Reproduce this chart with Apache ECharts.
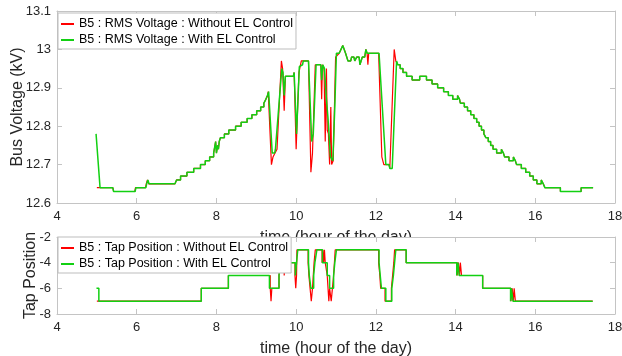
<!DOCTYPE html>
<html>
<head>
<meta charset="utf-8">
<script src="https://cdn.jsdelivr.net/npm/echarts@6/dist/echarts.min.js"></script>
<style>
  html, body { margin: 0; padding: 0; background: #fff; }
  #chart { width: 622px; height: 356px; }
</style>
</head>
<body>
<div id="chart"></div>
<script>
// ---- data ----
var xTicks = [4, 18, 2];              // min, max, step (hours)
var voltTicks = [12.6, 13.1, 0.1];
var tapTicks = [-8, -2, 2];

var voltNames = ['B5 : RMS Voltage : Without EL Control', 'B5 : RMS Voltage : With EL Control'];
var tapNames = ['B5 : Tap Position : Without EL Control', 'B5 : Tap Position : With EL Control'];

// voltage (kV), [hour, value]
var voltRedHead = [[5.00,12.64],[5.40,12.64],[5.42,12.63],[5.95,12.63],[5.97,12.64],[6.22,12.64],[6.24,12.65],
  [6.27,12.66],[6.30,12.65],[6.96,12.65]];
var voltGreenHead = [[4.98,12.78],[5.08,12.64],[5.40,12.64],[5.42,12.63],[5.96,12.63],[5.98,12.64],[6.23,12.64],
  [6.25,12.65],[6.28,12.66],[6.31,12.65],[6.96,12.65]];
// step change points, shared by both runs
var voltRise = [[7.00,12.66],[7.10,12.67],[7.26,12.68],[7.43,12.69],[7.60,12.70],[7.72,12.71],[7.83,12.72],
  [7.93,12.73],[7.98,12.76],[8.00,12.73],[8.03,12.75],[8.05,12.74],[8.07,12.76],[8.10,12.77],[8.20,12.78],
  [8.31,12.79],[8.48,12.80],[8.62,12.81],[8.77,12.82],[8.89,12.83],[9.01,12.84],[9.11,12.85],[9.19,12.86],
  [9.24,12.87],[9.28,12.88]];
var voltRedMid = [[9.30,12.89],[9.38,12.70],[9.42,12.72],[9.47,12.73],[9.52,12.74],[9.63,12.97],[9.66,12.95],
  [9.70,12.84],[9.73,12.93],[9.93,12.93],[9.95,12.94],[10.00,12.74],[10.07,12.94],[10.13,12.97],[10.31,12.97],
  [10.37,12.68],[10.41,12.73],[10.48,12.96],[10.62,12.96],[10.64,12.87],[10.66,12.96],[10.70,12.95],[10.73,12.76],
  [10.76,12.95],[10.78,12.79],[10.81,12.78],[10.84,12.70],[10.87,12.85],[10.89,12.70],[10.93,12.71],[10.99,12.98],
  [11.08,12.99],[11.17,13.01],[11.24,12.99],[11.30,12.97],[11.37,12.97],[11.39,12.98],[11.45,12.98],[11.47,12.97],
  [11.51,12.97],[11.52,12.98],[11.58,12.98],[11.60,12.96],[11.66,12.98],[11.72,12.98],[11.75,13.00],[11.78,12.99],
  [11.80,12.96],[11.82,12.99],[12.07,12.99],[12.15,12.72],[12.20,12.70],[12.33,12.70],[12.35,12.69],[12.40,12.69],
  [12.46,13.00],[12.50,12.97]];
var voltGreenMid = [[9.31,12.89],[9.40,12.73],[9.46,12.73],[9.48,12.74],[9.52,12.74],[9.64,12.95],[9.67,12.94],
  [9.70,12.88],[9.73,12.93],[9.93,12.93],[9.95,12.94],[10.01,12.78],[10.08,12.955],[10.16,12.96],[10.18,12.97],
  [10.31,12.97],[10.39,12.76],[10.43,12.78],[10.50,12.96],[10.62,12.96],[10.64,12.92],[10.67,12.96],[10.71,12.95],
  [10.76,12.87],[10.80,12.82],[10.86,12.72],[10.92,12.71],[10.97,12.85],[11.01,12.99],[11.08,12.99],[11.17,13.01],
  [11.24,12.99],[11.30,12.97],[11.37,12.97],[11.39,12.98],[11.45,12.98],[11.47,12.97],[11.51,12.97],[11.52,12.98],
  [11.58,12.98],[11.60,12.96],[11.66,12.98],[11.72,12.98],[11.75,13.00],[11.78,12.99],[12.08,12.99],[12.25,12.70],
  [12.33,12.70],[12.35,12.69],[12.41,12.69],[12.52,12.97]];
var voltFall = [[12.55,12.96],[12.61,12.95],[12.68,12.94],[12.77,12.93],[12.91,12.92],[13.10,12.93],[13.27,12.92],
  [13.41,12.91],[13.55,12.90],[13.70,12.89],[13.82,12.88],[13.93,12.87],[14.05,12.88],[14.10,12.87],[14.12,12.86],
  [14.22,12.85],[14.30,12.84],[14.38,12.83],[14.46,12.82],[14.53,12.81],[14.59,12.80],[14.65,12.79],[14.71,12.78],
  [14.76,12.77],[14.82,12.76],[14.88,12.75],[14.94,12.74],[15.03,12.73],[15.15,12.74],[15.20,12.73],[15.23,12.72],
  [15.34,12.71],[15.45,12.72],[15.50,12.71],[15.53,12.70],[15.65,12.69],[15.76,12.68],[15.86,12.67],[15.95,12.66],
  [16.04,12.65],[16.15,12.66],[16.20,12.65],[16.24,12.64],[16.63,12.63],[17.15,12.64],[17.45,12.64]];

// tap position, [hour, tap] change points
var tapRed = [[5.00,-7],[7.62,-6],[8.30,-5],[9.35,-6],[9.37,-7],[9.39,-6],[9.57,-5],[9.60,-4],[9.70,-5],[9.72,-4],
  [9.97,-5],[9.99,-6],[10.01,-5],[10.02,-3],[10.30,-4],[10.32,-5],[10.35,-6],[10.38,-7],[10.41,-6],[10.43,-5],
  [10.45,-4],[10.48,-3],[10.65,-4],[10.67,-3],[10.69,-4],[10.71,-3],[10.73,-4],[10.78,-5],[10.80,-6],[10.82,-7],
  [10.84,-6],[10.88,-7],[10.91,-6],[10.94,-5],[10.96,-4],[10.98,-3],[12.07,-4],[12.10,-5],[12.12,-6],[12.23,-7],
  [12.39,-6],[12.42,-5],[12.45,-4],[12.47,-3],[12.76,-4],[14.04,-5],[14.07,-4],[14.10,-5],[14.12,-4],[14.15,-5],
  [14.68,-6],[15.39,-7],[15.42,-6],[15.45,-7],[15.47,-6],[15.50,-7],[17.44,-7]];
var tapGreen = [[4.99,-6],[5.05,-7],[7.62,-6],[8.30,-5],[9.33,-6],[9.57,-5],[9.60,-4],[9.98,-5],[10.01,-4],
  [10.04,-3],[10.31,-4],[10.33,-5],[10.37,-6],[10.44,-5],[10.47,-4],[10.52,-3],[10.66,-4],[10.78,-5],[10.84,-6],
  [10.94,-5],[10.97,-4],[11.01,-3],[12.08,-4],[12.11,-5],[12.14,-6],[12.25,-7],[12.40,-6],[12.44,-5],[12.47,-4],
  [12.50,-3],[12.76,-4],[14.03,-5],[14.06,-4],[14.09,-5],[14.68,-6],[15.38,-7],[15.40,-6],[15.44,-7],[17.44,-7]];

// held-value points -> line corners
function stairs(pts) {
    var out = [];
    for (var i = 0; i < pts.length; i++) {
        if (i > 0) out.push([pts[i][0], pts[i - 1][1]]);
        out.push(pts[i]);
    }
    return out;
}

var voltRed = voltRedHead.concat(stairs(voltRise), voltRedMid, stairs(voltFall));
var voltGreen = voltGreenHead.concat(stairs(voltRise), voltGreenMid, stairs(voltFall));

var RED = '#ff0000', GREEN = '#12d012';
var font = 'Liberation Sans, Arial, sans-serif';
var boxColor = '#c4c4c4', txtColor = '#262626';

function xAx(grid, pos, z, name) {
    return {
        type: 'value', gridIndex: grid, position: pos, z: z,
        min: xTicks[0], max: xTicks[1], interval: xTicks[2],
        axisLine: { show: true, onZero: false, lineStyle: { color: boxColor, width: 1 } },
        axisTick: { show: true, inside: true, length: 5, lineStyle: { color: boxColor } },
        axisLabel: { show: pos == 'bottom', fontSize: 13, color: txtColor, fontFamily: font, margin: 7 },
        splitLine: { show: false },
        name: name, nameLocation: 'middle', nameGap: 27,
        nameTextStyle: { fontSize: 16, color: txtColor, fontFamily: font }
    };
}
function yAx(grid, pos, z, ticks, name, gap) {
    return {
        type: 'value', gridIndex: grid, position: pos, z: z,
        min: ticks[0], max: ticks[1], interval: ticks[2],
        axisLine: { show: true, onZero: false, lineStyle: { color: boxColor, width: 1 } },
        axisTick: { show: true, inside: true, length: 5, lineStyle: { color: boxColor } },
        axisLabel: { show: pos == 'left', fontSize: 13, color: txtColor, fontFamily: font, margin: 6 },
        splitLine: { show: false },
        name: name, nameLocation: 'middle', nameGap: gap, nameMoveOverlap: false,
        nameTextStyle: { fontSize: 16, color: txtColor, fontFamily: font }
    };
}
function legendBox(names, top) {
    return {
        data: names, left: 58, top: top, orient: 'vertical', icon: 'rect',
        backgroundColor: '#fff', borderColor: '#bdbdbd', borderWidth: 1, borderRadius: 0,
        padding: [4, 3, 2, 3], itemGap: 2, itemWidth: 13, itemHeight: 2,
        selectedMode: false,
        textStyle: { fontSize: 12.5, color: '#000', fontFamily: font, lineHeight: 14 }
    };
}
function line(name, color, xi, yi, data, step, w) {
    return {
        name: name, type: 'line', xAxisIndex: xi, yAxisIndex: yi, data: data,
        step: step, symbol: 'none', z: 2,
        lineStyle: { color: color, width: w }, itemStyle: { color: color }
    };
}

var myChart = echarts.init(document.getElementById('chart'));
var option = {
    animation: false,
    backgroundColor: '#fff',
    grid: [
        { left: 57, top: 11, width: 558, height: 192, outerBoundsMode: 'none' },
        { left: 57, top: 237, width: 558, height: 77, outerBoundsMode: 'none' }
    ],
    // the lower axes sit over the upper x title, as in the figure
    graphic: [{ type: 'rect', z: 1, shape: { x: 57, y: 237, width: 558, height: 77 }, style: { fill: '#fff' } }],
    xAxis: [
        xAx(0, 'bottom', 0, 'time (hour of the day)'),
        xAx(0, 'top', 0, ''),
        xAx(1, 'bottom', 3, 'time (hour of the day)'),
        xAx(1, 'top', 3, '')
    ],
    yAxis: [
        yAx(0, 'left', 0, voltTicks, 'Bus Voltage (kV)', 31),
        yAx(0, 'right', 0, voltTicks, '', 0),
        yAx(1, 'left', 3, tapTicks, 'Tap Position', 18),
        yAx(1, 'right', 3, tapTicks, '', 0)
    ],
    legend: [legendBox(voltNames, 13), legendBox(tapNames, 237)],
    series: [
        line(voltNames[0], RED, 0, 0, voltRed, false, 1.2),
        line(voltNames[1], GREEN, 0, 0, voltGreen, false, 1.5),
        line(tapNames[0], RED, 2, 2, tapRed, 'end', 1.2),
        line(tapNames[1], GREEN, 2, 2, tapGreen, 'end', 1.5)
    ]
};
myChart.setOption(option);
</script>
</body>
</html>
